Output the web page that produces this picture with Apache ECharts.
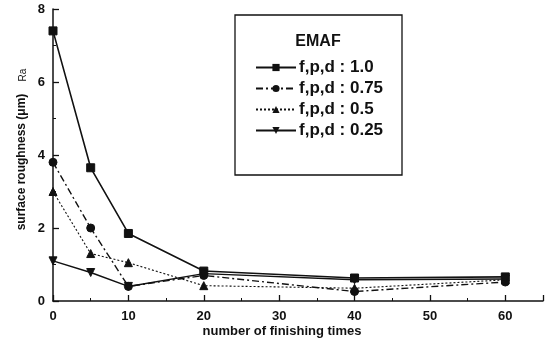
<!DOCTYPE html>
<html><head><meta charset="utf-8">
<script src="https://cdn.jsdelivr.net/npm/echarts@6/dist/echarts.min.js"></script>
<style>html,body{margin:0;padding:0;background:#fff}#c{width:551px;height:339px}</style>
</head><body><div id="c"></div>
<script>
const xValues = [0, 5, 10, 20, 40, 60];
const seriesNames = ['f,p,d : 1.0', 'f,p,d : 0.75', 'f,p,d : 0.5', 'f,p,d : 0.25'];
const s100 = [7.4, 3.65, 1.85, 0.82, 0.63, 0.66];
const s075 = [3.8, 2.0, 0.4, 0.7, 0.26, 0.52];
const s050 = [3.0, 1.3, 1.05, 0.42, 0.35, 0.58];
const s025 = [1.1, 0.78, 0.4, 0.75, 0.58, 0.6];
const yTicks = [0, 2, 4, 6, 8];
const xTicks = [0, 10, 20, 30, 40, 50, 60];

const ink = '#111';
const pair = arr => xValues.map((x, i) => [x, arr[i]]);
const styles = [
  {data: s100, symbol: 'rect', rot: 0, type: 'solid', w: 1.6, size: 8},
  {data: s075, symbol: 'circle', rot: 0, type: [7, 3, 2, 3], w: 1.4, size: 8},
  {data: s050, symbol: 'triangle', rot: 0, type: [2, 2], w: 1.1, size: 8},
  {data: s025, symbol: 'triangle', rot: 180, type: 'solid', w: 1.5, size: 8}
];
const chart = echarts.init(document.getElementById('c'), null, {renderer: 'canvas'});
chart.setOption({
  backgroundColor: '#fff',
  animation: false,
  grid: {left: 53, right: 8, top: 9, bottom: 38, containLabel: false},
  xAxis: {
    type: 'value', min: 0, max: 65, interval: 10,
    axisLine: {show: true, lineStyle: {color: ink, width: 1.5}},
    axisTick: {show: true, inside: true, length: 6, lineStyle: {color: ink, width: 1.3}},
    minorTick: {show: true, splitNumber: 2, length: 3, lineStyle: {color: ink}},
    splitLine: {show: false},
    axisLabel: {color: ink, fontFamily: 'Liberation Sans, Arial', fontWeight: 'bold', fontSize: 13, margin: 9,
      showMaxLabel: false,
      formatter: v => xTicks.includes(v) ? String(v) : ''}
  },
  yAxis: {
    type: 'value', min: 0, max: 8, interval: 2,
    axisLine: {show: true, lineStyle: {color: ink, width: 1.5}},
    axisTick: {show: true, inside: true, length: 6, lineStyle: {color: ink, width: 1.3}},
    minorTick: {show: true, splitNumber: 2, length: 3, lineStyle: {color: ink}},
    splitLine: {show: false},
    axisLabel: {color: ink, fontFamily: 'Liberation Sans, Arial', fontWeight: 'bold', fontSize: 13, margin: 8,
      formatter: v => yTicks.includes(v) ? String(v) : ''}
  },
  legend: {
    show: true, orient: 'vertical', left: 250, top: 54,
    itemWidth: 40, itemHeight: 9, itemGap: 4,
    textStyle: {color: ink, fontFamily: 'Liberation Sans, Arial', fontWeight: 'bold', fontSize: 17, padding: [0, 0, 0, -2]},
    data: seriesNames
  },
  graphic: [
    {type: 'rect', shape: {x: 235, y: 15, width: 167, height: 160},
      style: {fill: 'none', stroke: ink, lineWidth: 1.3}},
    {type: 'text', style: {x: 318, y: 42, text: 'EMAF', align: 'center', verticalAlign: 'middle',
      fill: ink, font: 'bold 16px "Liberation Sans", Arial'}},
    {type: 'text', style: {x: 282, y: 331, text: 'number of finishing times', align: 'center', verticalAlign: 'middle',
      fill: ink, font: 'bold 13px "Liberation Sans", Arial'}},
    {type: 'text', rotation: Math.PI / 2, x: 22, y: 162,
      style: {text: 'surface roughness (μm)', align: 'center', verticalAlign: 'middle',
        fill: ink, font: 'bold 12px "Liberation Sans", Arial'}},
    {type: 'text', rotation: Math.PI / 2, x: 23, y: 75,
      style: {text: 'Ra', align: 'center', verticalAlign: 'middle',
        fill: ink, font: '10px "Liberation Sans", Arial'}}
  ],
  series: styles.map((s, i) => ({
    name: seriesNames[i], type: 'line', data: pair(s.data),
    symbol: s.symbol, symbolSize: s.size, symbolRotate: s.rot,
    lineStyle: {color: ink, width: s.w, type: s.type},
    itemStyle: {color: ink, borderColor: ink},
    emphasis: {disabled: true}
  }))
});
</script></body></html>
